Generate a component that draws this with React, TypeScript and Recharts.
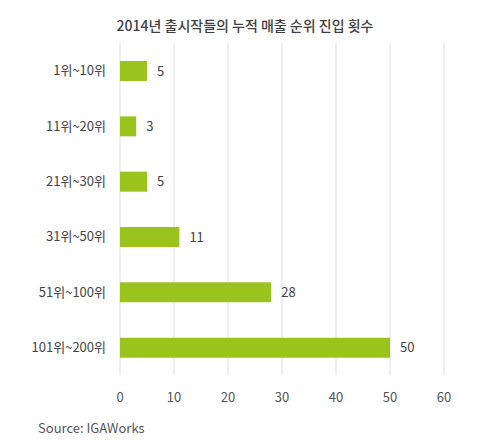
import { Bar, BarChart, CartesianGrid, LabelList, XAxis, YAxis } from "recharts";

const ranks = ["1위~10위", "11위~20위", "21위~30위", "31위~50위", "51위~100위", "101위~200위"];
const counts = [5, 3, 5, 11, 28, 50];
const xTicks = [0, 10, 20, 30, 40, 50, 60];

const data = ranks.map((rank, i) => ({ rank, count: counts[i] }));

const FONT = "'Noto Sans CJK KR', 'Noto Sans', sans-serif";

export default function App() {
  return (
    <div style={{ position: "relative", width: 500, height: 448, background: "#fff", fontFamily: FONT }}>
      <style>{`body{margin:0}`}</style>
      <div
        style={{
          position: "absolute",
          top: 15,
          left: 0,
          width: 490,
          textAlign: "center",
          fontSize: 14,
          color: "#404040",
          fontWeight: 500,
        }}
      >
        2014년 출시작들의 누적 매출 순위 진입 횟수
      </div>
      <BarChart
        width={500}
        height={448}
        data={data}
        layout="vertical"
        margin={{ top: 43, right: 56, bottom: 43, left: 0 }}
        barCategoryGap={17}
      >
        <CartesianGrid horizontal={false} stroke="#dedede" />
        <XAxis
          type="number"
          domain={[0, 60]}
          ticks={xTicks}
          axisLine={false}
          tickLine={false}
          tick={{ fill: "#555", fontSize: 13, fontFamily: FONT }}
          tickMargin={12}
          height={30}
        />
        <YAxis
          type="category"
          dataKey="rank"
          width={120}
          axisLine={false}
          tickLine={false}
          tick={{ fill: "#444", fontSize: 13, fontFamily: FONT }}
          tickMargin={8}
        />
        <Bar dataKey="count" fill="#9bc31d" barSize={20} isAnimationActive={false}>
          <LabelList
            dataKey="count"
            position="right"
            offset={10}
            style={{ fill: "#444", fontSize: 13, fontFamily: FONT }}
          />
        </Bar>
      </BarChart>
      <div style={{ position: "absolute", top: 418, left: 38, fontSize: 13, color: "#555" }}>
        Source: IGAWorks
      </div>
    </div>
  );
}
